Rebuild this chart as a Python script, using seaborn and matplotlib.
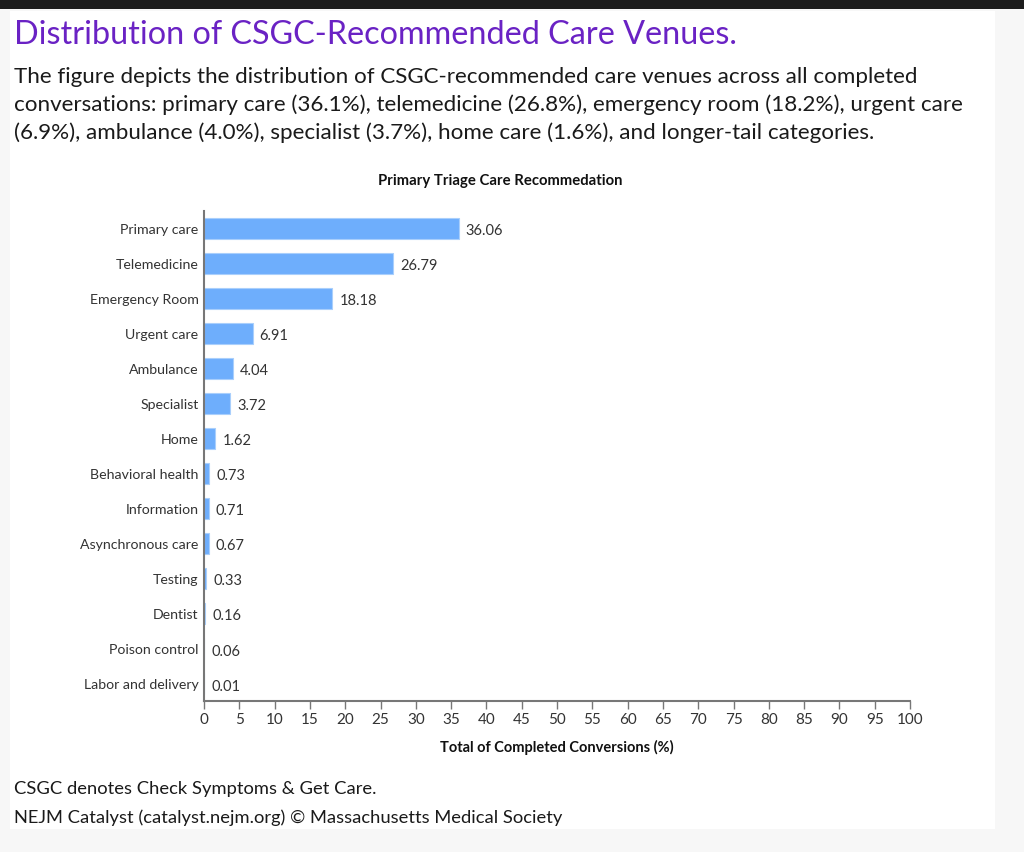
import pandas as pd
import matplotlib.pyplot as plt
import seaborn as sns
from matplotlib.patches import Rectangle

venues = ['Primary care', 'Telemedicine', 'Emergency Room', 'Urgent care', 'Ambulance',
          'Specialist', 'Home', 'Behavioral health', 'Information', 'Asynchronous care',
          'Testing', 'Dentist', 'Poison control', 'Labor and delivery']
shares = [36.06, 26.79, 18.18, 6.91, 4.04, 3.72, 1.62, 0.73, 0.71, 0.67, 0.33, 0.16, 0.06, 0.01]
x_ticks = list(range(0, 101, 5))

title = 'Distribution of CSGC-Recommended Care Venues.'
caption = ('The figure depicts the distribution of CSGC-recommended care venues across all completed\n'
           'conversations: primary care (36.1%), telemedicine (26.8%), emergency room (18.2%), urgent care\n'
           '(6.9%), ambulance (4.0%), specialist (3.7%), home care (1.6%), and longer-tail categories.')
footnote = 'CSGC denotes Check Symptoms & Get Care.'
credit = 'NEJM Catalyst (catalyst.nejm.org) \u00a9 Massachusetts Medical Society'


def main():
    sns.set_theme(style='white')
    plt.rcParams['font.family'] = ['Lato', 'DejaVu Sans']
    df = pd.DataFrame({'venue': venues, 'share': shares})

    W, H = 1024, 853
    fig = plt.figure(figsize=(W / 100, H / 100), dpi=100, facecolor='#f7f7f7')
    # white page panel + dark strip at top
    fig.patches.append(Rectangle((10 / W, 1 - 830 / H), 985 / W, 818 / H,
                                 transform=fig.transFigure, facecolor='white',
                                 edgecolor='none', zorder=-2))
    fig.patches.append(Rectangle((0, 1 - 10 / H), 1, 10 / H, transform=fig.transFigure,
                                 facecolor='#1c1c1c', edgecolor='none', zorder=-2))

    ax = fig.add_axes([204 / W, 1 - 702 / H, 706 / W, 490.5 / H])
    ax.set_zorder(2)
    ax.set_facecolor('none')
    sns.barplot(data=df, x='share', y='venue', orient='h', color='#6eaefc',
                saturation=1, width=0.6, edgecolor='#a9cffc', linewidth=0.8, ax=ax)
    for t in ax.bar_label(ax.containers[0], fmt='%.2f', padding=5, fontsize=10.5,
                          color='#333333'):
        t.set_va('center')
        t.xyann = (t.xyann[0], -1.5)

    ax.set_xlim(0, 100)
    ax.set_ylim(13.5, -0.5)
    ax.set_xticks(x_ticks)
    ax.set_xticklabels([str(t) for t in x_ticks], fontsize=11, color='#333333')
    ax.tick_params(axis='x', length=6, width=1, color='#777777', direction='out', pad=2,
                   bottom=True)
    ax.tick_params(axis='y', length=0, pad=4, labelsize=10.2, labelcolor='#333333')
    for side in ['top', 'right']:
        ax.spines[side].set_visible(False)
    for side in ['left', 'bottom']:
        ax.spines[side].set_color('#777777')
        ax.spines[side].set_linewidth(1.5)
    ax.set_ylabel('')
    ax.set_xlabel('Total of Completed Conversions (%)', fontsize=10.5, fontweight='bold',
                  color='#111111', labelpad=9)

    fig.text(500 / W, 1 - 181 / H, 'Primary Triage Care Recommedation', ha='center',
             va='center', fontsize=10.7, fontweight='bold', color='#111111')

    fig.text(14 / W, 1 - 35 / H, title, ha='left', va='center', fontsize=23.3,
             color='#6a22c4')
    fig.text(14 / W, 1 - 67 / H, caption, ha='left', va='top', fontsize=16.1,
             color='#1a1a1a', linespacing=1.44)
    fig.text(14 / W, 1 - 789 / H, footnote, ha='left', va='center', fontsize=13.2,
             color='#1a1a1a')
    fig.text(14 / W, 1 - 818 / H, credit, ha='left', va='center', fontsize=13.2,
             color='#1a1a1a')

    plt.savefig('out.png', dpi=100, facecolor=fig.get_facecolor())


if __name__ == '__main__':
    main()
